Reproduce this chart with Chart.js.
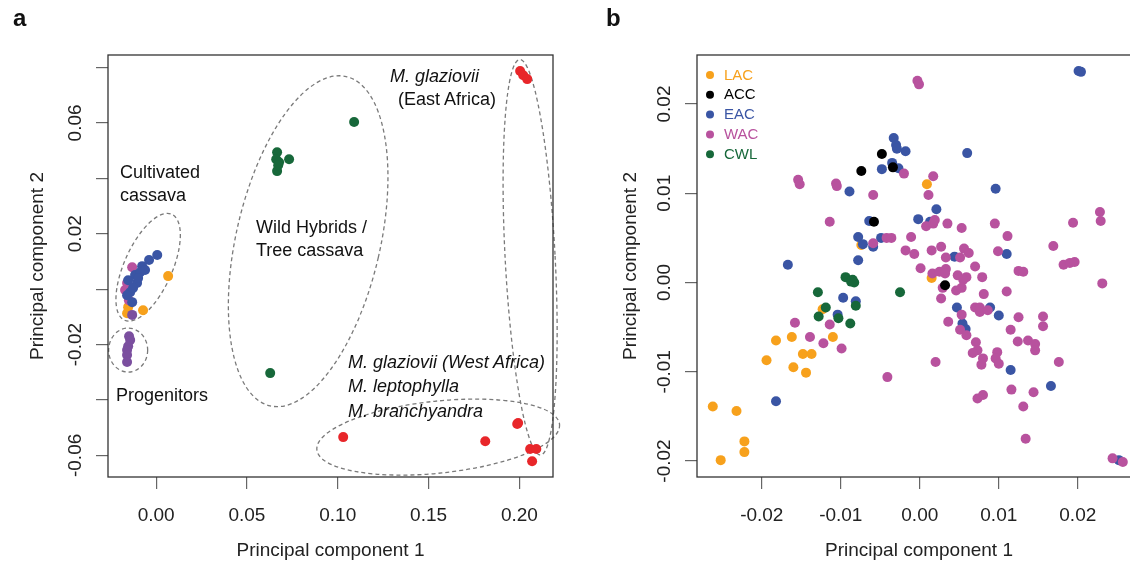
<!DOCTYPE html>
<html>
<head>
<meta charset="utf-8">
<script src="https://cdn.jsdelivr.net/npm/chart.js@4.4.1/dist/chart.umd.min.js"></script>
<style>
body { margin: 0; background: #fff; overflow: hidden; }
#wrap { position: relative; width: 1130px; height: 566px; overflow: hidden; font-family: "Liberation Sans", Arial, sans-serif; }
canvas { position: absolute; top: 0; }
#chartA { left: 0; }
#chartB { left: 600px; }
.lbl { position: absolute; font-size: 18px; line-height: 22px; color: #111; white-space: nowrap; }
.it { font-style: italic; }
.panel { position: absolute; font-size: 24px; font-weight: bold; color: #111; }
</style>
</head>
<body>
<div id="wrap">
    <canvas id="chartA" width="565" height="566"></canvas>
    <canvas id="chartB" width="560" height="566"></canvas>

    <div class="panel" style="left:13px; top:4px;">a</div>
    <div class="panel" style="left:606px; top:4px;">b</div>

    <div class="lbl" style="left:120px; top:161px;">Cultivated</div>
    <div class="lbl" style="left:120px; top:184px;">cassava</div>
    <div class="lbl" style="left:116px; top:384px;">Progenitors</div>
    <div class="lbl" style="left:256px; top:216px;">Wild Hybrids /</div>
    <div class="lbl" style="left:256px; top:239px;">Tree cassava</div>
    <div class="lbl it" style="left:390px; top:65px;">M. glaziovii</div>
    <div class="lbl" style="left:398px; top:88px;">(East Africa)</div>
    <div class="lbl it" style="left:348px; top:351px;">M. glaziovii (West Africa)</div>
    <div class="lbl it" style="left:348px; top:375px;">M. leptophylla</div>
    <div class="lbl it" style="left:348px; top:400px;">M. branchyandra</div>
</div>

<script>
// ---- panel a data (PC1, PC2) ----
const aLAC = [[0.0066, 0.0047], [-0.0072, -0.0076], [-0.0154, -0.0065], [-0.0160, -0.0087]];
const aWAC = [[-0.0132, 0.0079], [-0.0160, 0.0022], [-0.0171, -0.0003], [-0.0143, 0.0007], [-0.0150, -0.0040]];
const aEAC = [[0.0006, 0.0123], [-0.0039, 0.0105], [-0.0077, 0.0083], [-0.0116, 0.0051], [-0.0105, 0.0022],
    [-0.0143, -0.0011], [-0.0160, -0.0022], [-0.0132, -0.0047], [-0.0154, 0.0032], [-0.0088, 0.0061],
    [-0.0061, 0.0069], [-0.0127, 0.0004], [-0.0099, 0.0040]];
const aPRO = [[-0.0132, -0.0093], [-0.0149, -0.0170], [-0.0143, -0.0184], [-0.0154, -0.0206], [-0.0160, -0.0220],
    [-0.0160, -0.0238], [-0.0160, -0.0263]];
const aCWL = [[0.109, 0.0603], [0.0666, 0.0494], [0.0661, 0.0469], [0.0677, 0.0458], [0.0732, 0.0469],
    [0.0666, 0.0426], [0.0672, 0.0447], [0.0628, -0.0303]];
const aMGL = [[0.2004, 0.0787], [0.2021, 0.0772], [0.2043, 0.0758], [0.1993, -0.0483], [0.1988, -0.0487],
    [0.2059, -0.0577], [0.2093, -0.0577], [0.2070, -0.0621], [0.1812, -0.0549], [0.1030, -0.0534]];

const aXTicks = [0, 0.05, 0.10, 0.15, 0.20];
const aXLabels = ['0.00', '0.05', '0.10', '0.15', '0.20'];
const aYTicks = [-0.06, -0.04, -0.02, 0, 0.02, 0.04, 0.06, 0.08];
const aYLabels = ['-0.06', '', '-0.02', '', '0.02', '', '0.06', ''];

// ---- panel b data ----
const bLabels = ['LAC', 'ACC', 'EAC', 'WAC', 'CWL'];
const bLAC = [[0.0009, 0.0110], [-0.0074, 0.0042], [0.0015, 0.0005], [-0.0123, -0.0030], [-0.0182, -0.0065],
    [-0.0162, -0.0061], [-0.0110, -0.0061], [-0.0194, -0.0087], [-0.0148, -0.0080], [-0.0137, -0.0080],
    [-0.0160, -0.0095], [-0.0144, -0.0101], [-0.0262, -0.0139], [-0.0232, -0.0144], [-0.0222, -0.0178],
    [-0.0222, -0.0190], [-0.0252, -0.0199]];
const bACC = [[-0.0048, 0.0144], [-0.0074, 0.0125], [-0.0034, 0.0129], [-0.0058, 0.0068], [0.0032, -0.0003]];
const bEAC = [[-0.0033, 0.0162], [-0.0030, 0.0154], [-0.0029, 0.0150], [-0.0018, 0.0147], [0.0060, 0.0145],
    [-0.0048, 0.0127], [-0.0035, 0.0134], [-0.0027, 0.0128], [-0.0089, 0.0102], [0.0096, 0.0105],
    [0.0021, 0.0082], [-0.0002, 0.0071], [0.0013, 0.0068], [-0.0064, 0.0069], [-0.0078, 0.0051],
    [-0.0049, 0.0050], [-0.0059, 0.0040], [-0.0072, 0.0043], [-0.0078, 0.0025], [0.0044, 0.0029],
    [-0.0167, 0.0020], [-0.0097, -0.0017], [-0.0081, -0.0021], [-0.0104, -0.0036], [-0.0182, -0.0133],
    [0.0110, 0.0032], [0.0047, -0.0028], [0.0089, -0.0028], [0.0100, -0.0037], [0.0054, -0.0046],
    [0.0058, -0.0052], [0.0115, -0.0098], [0.0166, -0.0116], [0.0252, -0.0199], [0.0201, 0.0237],
    [0.0204, 0.0236]];
const bWAC = [[-0.0003, 0.0226], [-0.0001, 0.0222], [-0.0154, 0.0115], [-0.0152, 0.0110], [-0.0106, 0.0111],
    [-0.0105, 0.0108], [-0.0020, 0.0122], [0.0017, 0.0119], [0.0011, 0.0098], [-0.0059, 0.0098],
    [-0.0114, 0.0068], [0.0008, 0.0063], [0.0017, 0.0066], [0.0019, 0.0070], [0.0035, 0.0066],
    [0.0053, 0.0061], [0.0095, 0.0066], [-0.0011, 0.0051], [-0.0042, 0.0050], [-0.0036, 0.0050],
    [-0.0059, 0.0044], [-0.0018, 0.0036], [-0.0007, 0.0032], [0.0015, 0.0036], [0.0027, 0.0040],
    [0.0033, 0.0028], [0.0056, 0.0038], [0.0062, 0.0033], [0.0051, 0.0028], [0.0099, 0.0035],
    [0.0001, 0.0016], [0.0016, 0.0010], [0.0025, 0.0012], [0.0033, 0.0015], [0.0048, 0.0008],
    [0.0059, 0.0006], [0.0070, 0.0018], [0.0079, 0.0006], [-0.0158, -0.0045], [-0.0114, -0.0047],
    [-0.0139, -0.0061], [-0.0122, -0.0068], [-0.0099, -0.0074], [0.0194, 0.0067], [0.0111, 0.0052],
    [0.0169, 0.0041], [0.0182, 0.0020], [0.0190, 0.0022], [0.0196, 0.0023], [0.0032, 0.0010],
    [0.0055, 0.0003], [0.0125, 0.0013], [0.0131, 0.0012], [0.0231, -0.0001], [0.0029, -0.0006],
    [0.0046, -0.0009], [0.0053, -0.0006], [0.0081, -0.0013], [0.0110, -0.0010], [0.0027, -0.0018],
    [0.0070, -0.0028], [0.0076, -0.0033], [0.0076, -0.0028], [0.0086, -0.0031], [0.0053, -0.0036],
    [0.0036, -0.0044], [0.0125, -0.0039], [0.0156, -0.0038], [0.0156, -0.0049], [0.0051, -0.0053],
    [0.0059, -0.0059], [0.0115, -0.0053], [0.0124, -0.0066], [0.0137, -0.0065], [0.0146, -0.0069],
    [0.0146, -0.0076], [0.0071, -0.0067], [0.0073, -0.0076], [0.0067, -0.0079], [0.0080, -0.0085],
    [0.0078, -0.0092], [0.0098, -0.0078], [0.0096, -0.0085], [0.0100, -0.0091], [0.0176, -0.0089],
    [0.0116, -0.0120], [0.0144, -0.0123], [0.0073, -0.0130], [0.0080, -0.0126], [0.0131, -0.0139],
    [0.0134, -0.0175], [0.0244, -0.0197], [0.0257, -0.0201], [-0.0041, -0.0106], [0.0228, 0.0079],
    [0.0229, 0.0069], [0.0020, -0.0089]];
const bCWL = [[-0.0094, 0.0006], [-0.0085, 0.0003], [-0.0087, 0.0001], [-0.0083, 0.0000], [-0.0129, -0.0011],
    [-0.0119, -0.0028], [-0.0081, -0.0026], [-0.0128, -0.0038], [-0.0103, -0.0040], [-0.0088, -0.0046],
    [-0.0025, -0.0011]];

const bTicks = [-0.02, -0.01, 0, 0.01, 0.02];
const bTickLabels = ['-0.02', '-0.01', '0.00', '0.01', '0.02'];

// colours
const ORANGE = '#f7a11c', BLACK = '#000000', BLUE = '#3a55a4', MAGENTA = '#b8529e',
      GREEN = '#17683a', PURPLE = '#7b4f9f', RED = '#e8262a';

// dashed group outlines in panel a (centre in data units, radii in px)
const groupOutlines = [
    { x: -0.0044, y: 0.0079, rx: 24, ry: 58, rot: 24 },
    { x: -0.0154, y: -0.0220, rx: 19.5, ry: 22, rot: 0 },
    { x: 0.0837, y: 0.0173, rx: 72, ry: 169, rot: 13 },
    { x: 0.2059, y: 0.0115, rx: 25, ry: 198, rot: -3 },
    { x: 0.1553, y: -0.0534, rx: 122, ry: 36, rot: -6 }
];

const FAMILY = "'Liberation Sans', Arial, sans-serif";
Chart.defaults.font.family = FAMILY;
Chart.defaults.color = '#222';

function scatterSet(label, pts, color, order) {
    return {
        label: label,
        data: pts.map(p => ({ x: p[0], y: p[1] })),
        backgroundColor: color,
        borderWidth: 0,
        pointRadius: 5,
        pointHoverRadius: 5,
        order: order
    };
}

function xAxis(min, max, ticks, labels) {
    return {
        type: 'linear', min: min, max: max,
        afterBuildTicks: s => { s.ticks = ticks.map(v => ({ value: v })); },
        afterFit: s => { s.height = 89; },
        grid: { drawOnChartArea: false, drawTicks: true, tickLength: 12, color: '#666', lineWidth: 1.2 },
        border: { display: false },
        ticks: { font: { size: 19 }, color: '#222', padding: 15, maxRotation: 0, autoSkip: false,
                 callback: (v, i) => labels[i] },
        title: { display: true, text: 'Principal component 1', font: { size: 19 }, color: '#222',
                 padding: { top: 0, bottom: 4 } }
    };
}

function yAxis(min, max, ticks, labels, width, titlePad) {
    return {
        type: 'linear', min: min, max: max,
        afterBuildTicks: s => { s.ticks = ticks.map(v => ({ value: v })); },
        afterFit: s => { s.width = width; },
        grid: { drawOnChartArea: false, drawTicks: true, tickLength: 12, color: '#666', lineWidth: 1.2 },
        border: { display: false },
        ticks: { font: { size: 19 }, color: 'rgba(0,0,0,0)', autoSkip: false,
                 callback: (v, i) => labels[i] },
        title: { display: true, text: 'Principal component 2', font: { size: 19 }, color: '#222',
                 padding: { top: titlePad, bottom: 0 } }
    };
}

// box round the plotting region, like R's box()
const frameBox = {
    id: 'frameBox',
    afterDraw(chart) {
        const a = chart.chartArea, ctx = chart.ctx;
        ctx.save();
        ctx.strokeStyle = '#333';
        ctx.lineWidth = 1.3;
        ctx.strokeRect(a.left, a.top, a.right - a.left, a.bottom - a.top);
        ctx.restore();
    }
};

// y tick labels written parallel to the axis
const rotatedYLabels = {
    id: 'rotatedYLabels',
    afterDraw(chart) {
        const s = chart.scales.y, ctx = chart.ctx;
        ctx.save();
        ctx.font = '19px ' + FAMILY;
        ctx.fillStyle = '#222';
        ctx.textAlign = 'center';
        ctx.textBaseline = 'middle';
        s.ticks.forEach(t => {
            if (!t.label) return;
            ctx.save();
            ctx.translate(chart.chartArea.left - 32, s.getPixelForValue(t.value));
            ctx.rotate(-Math.PI / 2);
            ctx.fillText(t.label, 0, 0);
            ctx.restore();
        });
        ctx.restore();
    }
};

const outlinePlugin = {
    id: 'groupOutlines',
    beforeDatasetsDraw(chart) {
        const sx = chart.scales.x, sy = chart.scales.y, ctx = chart.ctx;
        ctx.save();
        ctx.strokeStyle = '#7a7a7a';
        ctx.lineWidth = 1.3;
        ctx.setLineDash([4, 3]);
        groupOutlines.forEach(e => {
            ctx.beginPath();
            ctx.ellipse(sx.getPixelForValue(e.x), sy.getPixelForValue(e.y), e.rx, e.ry,
                        e.rot * Math.PI / 180, 0, Math.PI * 2);
            ctx.stroke();
        });
        ctx.restore();
    }
};

// legend in the top-left corner of the plotting region, text in series colour
const cornerLegend = {
    id: 'cornerLegend',
    afterDraw(chart) {
        const a = chart.chartArea, ctx = chart.ctx;
        ctx.save();
        ctx.font = '15px ' + FAMILY;
        ctx.textAlign = 'left';
        ctx.textBaseline = 'middle';
        chart.data.datasets.forEach((d, i) => {
            const y = a.top + 20 + i * 19.8;
            ctx.fillStyle = d.backgroundColor;
            ctx.beginPath();
            ctx.arc(a.left + 13, y, 4, 0, Math.PI * 2);
            ctx.fill();
            ctx.fillText(d.label, a.left + 27, y + 0.5);
        });
        ctx.restore();
    }
};

// Panel a
new Chart(document.getElementById('chartA').getContext('2d'), {
    type: 'scatter',
    data: {
        datasets: [
            scatterSet('LAC', aLAC, ORANGE, 3),
            scatterSet('WAC', aWAC, MAGENTA, 2),
            scatterSet('EAC', aEAC, BLUE, 1),
            scatterSet('Progenitors', aPRO, PURPLE, 1),
            scatterSet('CWL', aCWL, GREEN, 1),
            scatterSet('M. glaziovii', aMGL, RED, 1)
        ]
    },
    options: {
        responsive: false,
        animation: false,
        layout: { padding: { left: 0, top: 55, right: 12, bottom: 0 } },
        scales: {
            x: xAxis(-0.0265, 0.2185, aXTicks, aXLabels),
            y: yAxis(-0.0678, 0.0845, aYTicks, aYLabels, 108, 26)
        },
        plugins: { legend: { display: false }, tooltip: { enabled: false } }
    },
    plugins: [outlinePlugin, frameBox, rotatedYLabels]
});

// Panel b
const bColors = [ORANGE, BLACK, BLUE, MAGENTA, GREEN];
new Chart(document.getElementById('chartB').getContext('2d'), {
    type: 'scatter',
    data: {
        datasets: [
            scatterSet(bLabels[0], bLAC, bColors[0], 4),
            scatterSet(bLabels[1], bACC, bColors[1], 0),
            scatterSet(bLabels[2], bEAC, bColors[2], 3),
            scatterSet(bLabels[3], bWAC, bColors[3], 2),
            scatterSet(bLabels[4], bCWL, bColors[4], 1)
        ]
    },
    options: {
        responsive: false,
        animation: false,
        layout: { padding: { left: 0, top: 55, right: 19, bottom: 0 } },
        scales: {
            x: xAxis(-0.0282, 0.0280, bTicks, bTickLabels),
            y: yAxis(-0.02179, 0.02549, bTicks, bTickLabels, 97, 19)
        },
        plugins: { legend: { display: false }, tooltip: { enabled: false } }
    },
    plugins: [frameBox, rotatedYLabels, cornerLegend]
});
</script>
</body>
</html>
